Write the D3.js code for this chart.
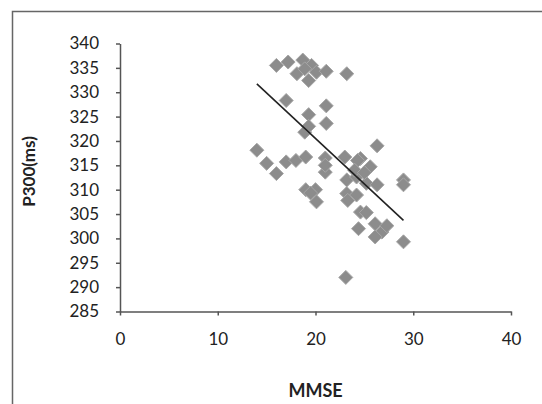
<!DOCTYPE html>
<html>
<head>
<meta charset="utf-8">
<script src="https://cdn.jsdelivr.net/npm/d3@7"></script>
<style>
  body { margin: 0; background: #fff; }
  svg { display: block; font-family: Lato, "Open Sans", sans-serif; }
  .axis path, .axis line { stroke: #555; stroke-width: 1.5; }
  .axis text { fill: #222; font-size: 17px; font-family: Lato, sans-serif; }
</style>
</head>
<body>
<script>
// MMSE score and P300 latency
const mmse = [16, 17.2, 18.7, 19.6, 18.1, 19.3, 20.1, 21.1, 23.2, 18.9,
              17, 21.1, 19.3, 21.1, 18.9, 19.3,
              14, 15, 16, 17, 18, 19, 21, 21, 21,
              19, 20, 20.1, 19.5,
              23, 24.6, 25.6, 26.3, 23.2, 24.2, 25.2, 26.3, 23.2, 24.2, 23.3, 24.3, 24, 25,
              24.6, 25.2, 24.4, 26.1, 26.8, 26.1, 27.3,
              29, 29, 29, 23.1];
const p300 = [335.5, 336.2, 336.6, 335.5, 333.8, 332.4, 334.1, 334.3, 333.8, 334.8,
              328.3, 327.2, 325.4, 323.6, 321.8, 323,
              318.1, 315.4, 313.3, 315.7, 316, 316.7, 316.5, 313.6, 315,
              310, 310, 307.5, 309.3,
              316.7, 316.4, 314.7, 319, 312, 312.6, 311.3, 311, 309.2, 308.9, 307.8, 316, 314, 313.5,
              305.4, 305.3, 302, 303, 301.3, 300.3, 302.6,
              312, 311, 299.3, 292];
// trend line end points
const trendX = [14, 29];
const trendY = [331.7, 303.7];
const xTicks = [0, 10, 20, 30, 40];
const yTicks = [285, 290, 295, 300, 305, 310, 315, 320, 325, 330, 335, 340];

const W = 542, H = 404;
const svg = d3.select('body').append('svg').attr('width', W).attr('height', H);

// outer frame
svg.append('rect')
  .attr('x', 12.5).attr('y', 11.5)
  .attr('width', W).attr('height', H)
  .attr('fill', 'none').attr('stroke', '#666').attr('stroke-width', 1.5);

const x = d3.scaleLinear().domain([0, 40]).range([120, 511]);
const y = d3.scaleLinear().domain([285, 340]).range([311.5, 43.5]);

svg.append('g').attr('class', 'axis')
  .attr('transform', `translate(0,${y(285)})`)
  .call(d3.axisBottom(x).tickValues(xTicks).tickSize(4).tickPadding(17).tickSizeOuter(0));

svg.append('g').attr('class', 'axis')
  .attr('transform', `translate(${x(0)},0)`)
  .call(d3.axisLeft(y).tickValues(yTicks).tickSize(4).tickPadding(17).tickSizeOuter(0));

// diamonds
const diamond = d3.symbol().type(d3.symbolDiamond2).size(125);
svg.append('g').selectAll('path')
  .data(d3.range(mmse.length))
  .join('path')
  .attr('d', diamond)
  .attr('transform', i => `translate(${x(mmse[i])},${y(p300[i])})`)
  .attr('fill', '#8c8c8c')
  .attr('stroke', '#a6a6a6').attr('stroke-width', 1);

// trend line
svg.append('line')
  .attr('x1', x(trendX[0])).attr('y1', y(trendY[0]))
  .attr('x2', x(trendX[1])).attr('y2', y(trendY[1]))
  .attr('stroke', '#222').attr('stroke-width', 1.6);

// axis titles
svg.append('text')
  .attr('transform', `translate(35,${(y(285) + y(340)) / 2 - 6}) rotate(-90)`)
  .attr('text-anchor', 'middle')
  .attr('font-weight', 'bold').attr('font-size', 17).attr('fill', '#222')
  .text('P300(ms)');

svg.append('text')
  .attr('x', x(20)).attr('y', 397)
  .attr('text-anchor', 'middle')
  .attr('font-weight', 'bold').attr('font-size', 18).attr('fill', '#222')
  .text('MMSE');
</script>
</body>
</html>
